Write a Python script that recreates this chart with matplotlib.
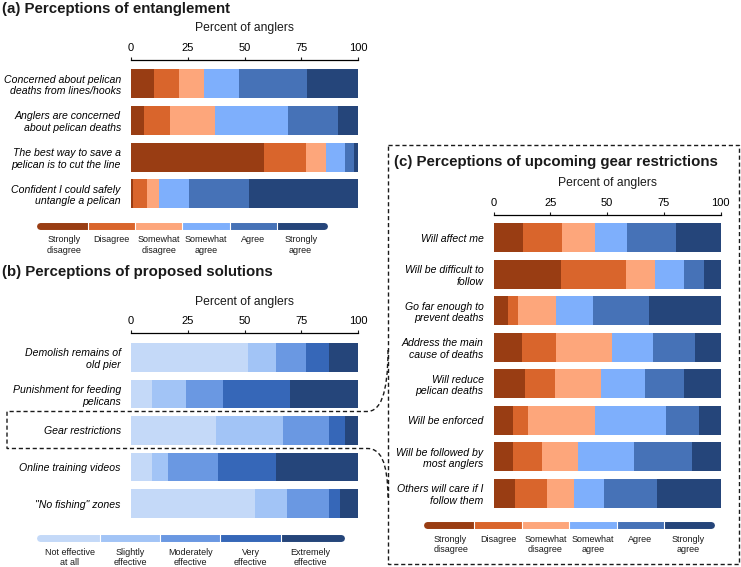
import numpy as np
import matplotlib.pyplot as plt
from matplotlib.path import Path
from matplotlib.patches import PathPatch, Rectangle

plt.rcParams['font.family'] = ['Liberation Sans', 'DejaVu Sans']
plt.rcParams['text.color'] = '#1a1a1a'

W, H = 741, 567

# --- data (percent of anglers) ---
agree_levels = ["Strongly\ndisagree", "Disagree", "Somewhat\ndisagree",
                "Somewhat\nagree", "Agree", "Strongly\nagree"]
agree_colors = ['#993d13', '#d9652c', '#fda67b', '#7eaffc', '#4672b7', '#25457a']

effect_levels = ["Not effective\nat all", "Slightly\neffective", "Moderately\neffective",
                 "Very\neffective", "Extremely\neffective"]
effect_colors = ['#c4d9f8', '#a2c4f6', '#6a98e2', '#3667b8', '#25457a']

ent_labels = ["Concerned about pelican\ndeaths from lines/hooks",
              "Anglers are concerned\nabout pelican deaths",
              "The best way to save a\npelican is to cut the line",
              "Confident I could safely\nuntangle a pelican"]
ent_pct = [[10.0, 11.3, 11.0, 15.3, 30.1, 22.3],
           [5.9, 11.1, 20.2, 31.8, 22.2, 8.8],
           [58.6, 18.3, 9.0, 8.2, 4.1, 1.8],
           [0.7, 6.3, 5.2, 13.2, 26.4, 48.2]]

sol_labels = ["Demolish remains of\nold pier",
              "Punishment for feeding\npelicans",
              "Gear restrictions",
              "Online training videos",
              "\"No fishing\" zones"]
sol_pct = [[51.5, 12.3, 13.1, 10.3, 12.8],
           [9.3, 15.0, 16.2, 29.5, 30.0],
           [37.4, 29.4, 20.4, 6.9, 5.9],
           [9.3, 7.0, 22.2, 25.4, 36.1],
           [54.6, 14.3, 18.3, 4.9, 7.9]]

gear_labels = ["Will affect me",
               "Will be difficult to\nfollow",
               "Go far enough to\nprevent deaths",
               "Address the main\ncause of deaths",
               "Will reduce\npelican deaths",
               "Will be enforced",
               "Will be followed by\nmost anglers",
               "Others will care if I\nfollow them"]
gear_pct = [[12.8, 17.5, 14.2, 14.1, 21.9, 19.5],
            [29.5, 28.8, 12.9, 12.8, 8.5, 7.5],
            [6.3, 4.3, 16.9, 16.2, 24.5, 31.8],
            [12.5, 15.0, 24.7, 18.1, 18.2, 11.5],
            [13.8, 13.1, 20.3, 19.5, 17.3, 16.0],
            [8.4, 6.5, 29.7, 31.1, 14.8, 9.5],
            [8.4, 12.8, 16.0, 24.7, 25.6, 12.5],
            [9.5, 14.0, 11.9, 13.1, 23.6, 27.9]]

fig = plt.figure(figsize=(W / 100, H / 100), dpi=100)

# overlay in pixel coordinates for titles, legends and dashed boxes
ov = fig.add_axes([0, 0, 1, 1])
ov.set_xlim(0, W)
ov.set_ylim(H, 0)
ov.axis('off')


def px_rect(x0, y0, x1, y1):
    return [x0 / W, 1 - y1 / H, (x1 - x0) / W, (y1 - y0) / H]


def stacked(rect, labels, pct, colors, offset):
    ax = fig.add_axes(px_rect(*rect))
    pct = np.array(pct)
    y = np.arange(len(labels))
    left = np.zeros(len(labels))
    for j, c in enumerate(colors):
        ax.barh(y, pct[:, j], left=left, height=0.79, color=c, linewidth=0)
        left += pct[:, j]
    ax.set_xlim(0, 100)
    ax.set_ylim(len(labels) - 0.5, -0.5)
    ax.set_yticks(y, labels)
    for t in ax.get_yticklabels():
        t.set_fontstyle('italic')
        t.set_linespacing(1.2)
    ax.xaxis.tick_top()
    ax.set_xticks([0, 25, 50, 75, 100])
    ax.tick_params(axis='x', length=2.5, width=0.8, pad=2.5, labelsize=8, color='#1a1a1a')
    ax.tick_params(axis='y', length=0, pad=7.3, labelsize=7.6)
    for s in ['right', 'bottom', 'left']:
        ax.spines[s].set_visible(False)
    ax.spines['top'].set_position(('outward', offset))
    ax.spines['top'].set_linewidth(0.9)
    ax.patch.set_visible(False)
    return ax


def legend_bar(x0, x1, yc, labels, colors, ly):
    n = len(colors)
    edges = np.linspace(x0, x1, n + 1)
    lw = 5.0
    ov.plot([edges[0], edges[1]], [yc, yc], color=colors[0], lw=lw, solid_capstyle='round')
    ov.plot([edges[-2], edges[-1]], [yc, yc], color=colors[-1], lw=lw, solid_capstyle='round')
    for i in range(1, n - 1):
        ov.plot([edges[i], edges[i + 1]], [yc, yc], color=colors[i], lw=lw, solid_capstyle='butt')
    for e in edges[1:-1]:
        ov.plot([e, e], [yc - 3.6, yc + 3.6], color='white', lw=0.8)
    for i, lab in enumerate(labels):
        ov.text((edges[i] + edges[i + 1]) / 2, ly, lab, ha='center', va='top',
                fontsize=6.5, linespacing=1.15)


# (a)
stacked((131, 65.5, 358, 212), ent_labels, ent_pct, agree_colors, 4.0)
ov.text(2, 8.5, "(a) Perceptions of entanglement", fontsize=10.8, fontweight='bold', va='center')
ov.text(244.5, 28, "Percent of anglers", fontsize=8.7, ha='center', va='center')
legend_bar(40.4, 324.3, 225.5, agree_levels, agree_colors, 235.5)

# (b)
stacked((131, 339.2, 358, 521.8), sol_labels, sol_pct, effect_colors, 4.5)
ov.text(2, 272, "(b) Perceptions of proposed solutions", fontsize=10.8, fontweight='bold', va='center')
ov.text(244.5, 301.7, "Percent of anglers", fontsize=8.7, ha='center', va='center')
legend_bar(39.8, 340.8, 537.7, effect_levels, effect_colors, 547.8)

# (c)
stacked((493.7, 219.5, 720.7, 511.5), gear_labels, gear_pct, agree_colors, 3.2)
ov.text(394, 162, "(c) Perceptions of upcoming gear restrictions", fontsize=10.8,
        fontweight='bold', va='center')
ov.text(607.2, 183, "Percent of anglers", fontsize=8.7, ha='center', va='center')
legend_bar(426.9, 711.4, 525, agree_levels, agree_colors, 534.8)

# dashed frame around (c) and link to the gear restrictions row
dash = dict(fill=False, edgecolor='#1a1a1a', lw=1.0, linestyle=(0, (3, 2)))
ov.add_patch(Rectangle((388, 145), 351, 419, **dash))
verts = [(388, 350), (388, 395), (380, 411.5), (367, 411.5),
         (7, 411.5), (7, 448.5), (367, 448.5),
         (380, 448.5), (388, 460), (388, 500)]
codes = [Path.MOVETO, Path.CURVE4, Path.CURVE4, Path.CURVE4,
         Path.LINETO, Path.LINETO, Path.LINETO,
         Path.CURVE4, Path.CURVE4, Path.CURVE4]
ov.add_patch(PathPatch(Path(verts, codes), **dash))

fig.savefig('out.png', dpi=100)
